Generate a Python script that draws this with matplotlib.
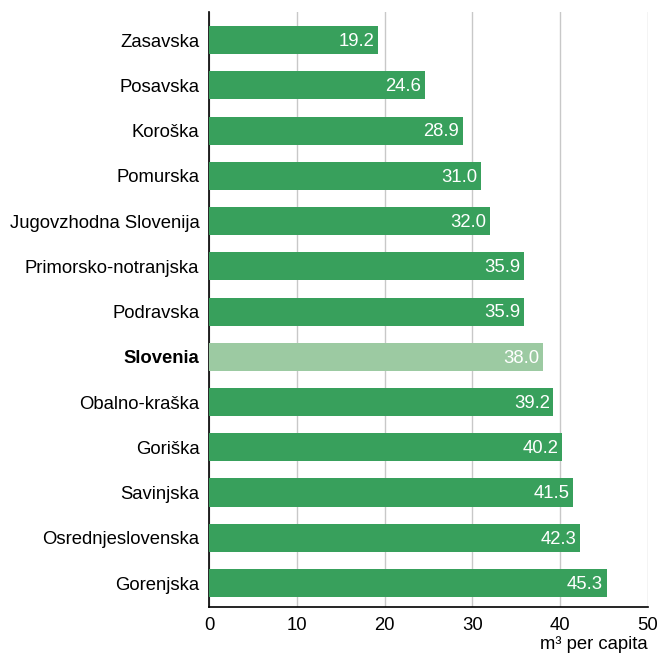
import matplotlib
matplotlib.use("Agg")
import matplotlib.pyplot as plt

regions = ["Zasavska", "Posavska", "Koroška", "Pomurska", "Jugovzhodna Slovenija",
           "Primorsko-notranjska", "Podravska", "Slovenia", "Obalno-kraška", "Goriška",
           "Savinjska", "Osrednjeslovenska", "Gorenjska"]
values = [19.2, 24.6, 28.9, 31.0, 32.0, 35.9, 35.9, 38.0, 39.2, 40.2, 41.5, 42.3, 45.3]
x_ticks = [0, 10, 20, 30, 40, 50]

plt.rcParams['font.family'] = ['Liberation Sans', 'DejaVu Sans']
fs = 13.3

fig = plt.figure(figsize=(6.61, 6.56), dpi=100)
ax = fig.add_axes([209/661, 1 - 607/656, (648-209)/661, (607-12)/656])

green = "#38a05c"
light = "#9ccaa2"
colors = [light if r == "Slovenia" else green for r in regions]
ypos = list(range(len(regions)))
ax.barh(ypos, values, height=0.62, color=colors, zorder=3)

for y, v in zip(ypos, values):
    ax.text(v - 0.4, y + 0.03, f"{v:.1f}", ha="right", va="center",
            color="white", fontsize=fs, zorder=4)

ax.set_xlim(0, 50)
ax.set_ylim(len(regions) - 1 + 0.53, -0.62)
ax.set_yticks(ypos)
ax.set_yticklabels(regions, fontsize=fs)
for lbl in ax.get_yticklabels():
    if lbl.get_text() == "Slovenia":
        lbl.set_fontweight("bold")
ax.set_xticks(x_ticks)
ax.tick_params(axis="x", labelsize=fs, length=0, pad=7)
ax.tick_params(axis="y", length=0, pad=7)
ax.xaxis.grid(True, color="#c8c8c8", linewidth=1, zorder=0)
ax.set_axisbelow(True)
for s in ["top", "right"]:
    ax.spines[s].set_visible(False)
ax.spines["left"].set_color("black")
ax.spines["bottom"].set_color("black")
ax.spines["left"].set_linewidth(1.2)
ax.spines["bottom"].set_linewidth(1.2)

fig.text(648/661, 1 - 653/656, "m³ per capita", fontsize=fs,
         ha="right", va="bottom")

fig.savefig("out.png", dpi=100)
